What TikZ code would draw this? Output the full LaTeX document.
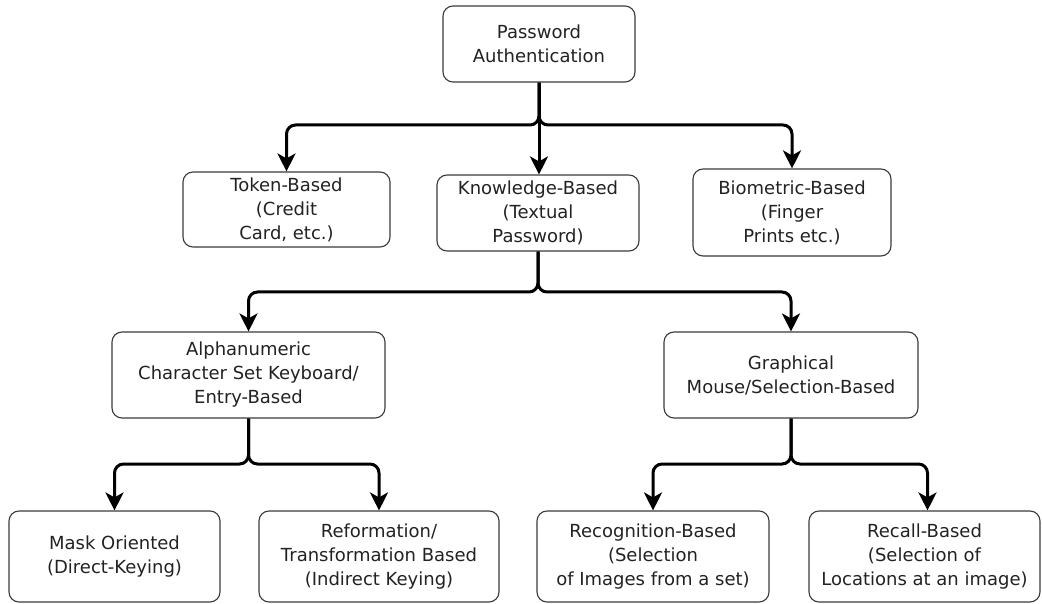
\documentclass[tikz,border=0pt]{standalone}
\usepackage{fontspec}
\setmainfont{DejaVu Sans}
\usetikzlibrary{arrows.meta}
\definecolor{ink}{HTML}{222222}
\definecolor{edge}{HTML}{3A3A3A}
\begin{document}
\begin{tikzpicture}[x=1pt,y=-1pt,
  box/.style={draw=edge, line width=1.1pt, rounded corners=10pt, align=center,
    text=ink, font=\fontsize{18}{24}\selectfont, inner sep=0pt},
  link/.style={line width=3pt, rounded corners=9pt,
    -{Stealth[length=18pt,width=18pt,inset=5pt]}},
]
\useasboundingbox (0,0) rectangle (1042,604);

% boxes
\node[box, minimum width=192pt, minimum height=76pt] (pa)  at (539,44)    {Password\\Authentication};
\node[box, minimum width=207pt, minimum height=75pt] (tok) at (286.5,209.5) {Token-Based\\(Credit\\Card, etc.)};
\node[box, minimum width=202pt, minimum height=76pt] (kno) at (538,213)   {Knowledge-Based\\(Textual\\Password)};
\node[box, minimum width=198pt, minimum height=87pt] (bio) at (792,212.5) {Biometric-Based\\(Finger\\Prints etc.)};

\node[box, minimum width=273pt, minimum height=86pt] (alp) at (248.5,375) {Alphanumeric\\Character Set Keyboard/\\Entry-Based};
\node[box, minimum width=254pt, minimum height=86pt] (gra) at (791,375)   {Graphical\\Mouse/Selection-Based};

\node[box, minimum width=211pt, minimum height=91pt] (msk) at (114.5,556.5) {Mask Oriented\\(Direct-Keying)};
\node[box, minimum width=240pt, minimum height=91pt] (ref) at (379,556.5)   {Reformation/\\Transformation Based\\(Indirect Keying)};
\node[box, minimum width=232pt, minimum height=91pt] (rec) at (653,556.5)   {Recognition-Based\\(Selection\\of Images from a set)};
\node[box, minimum width=231pt, minimum height=91pt] (rcl) at (924.5,556.5) {Recall-Based\\(Selection of\\Locations at an image)};

% branch rows
\coordinate (r1) at (0,125);
\coordinate (r2) at (0,292);
\coordinate (r3) at (0,464);

% connectors
\draw[link] (pa.south) -- (pa.south |- r1) -| (tok.north);
\draw[link] (pa.south) -- (pa.south |- kno.north);
\draw[link] (pa.south) -- (pa.south |- r1) -| (bio.north);

\draw[link] (kno.south) -- (kno.south |- r2) -| (alp.north);
\draw[link] (kno.south) -- (kno.south |- r2) -| (gra.north);

\draw[link] (alp.south) -- (alp.south |- r3) -| (msk.north);
\draw[link] (alp.south) -- (alp.south |- r3) -| (ref.north);

\draw[link] (gra.south) -- (gra.south |- r3) -| (rec.north);
\draw[link] (gra.south) -- (gra.south |- r3) -| ([xshift=3pt]rcl.north);
\end{tikzpicture}
\end{document}
